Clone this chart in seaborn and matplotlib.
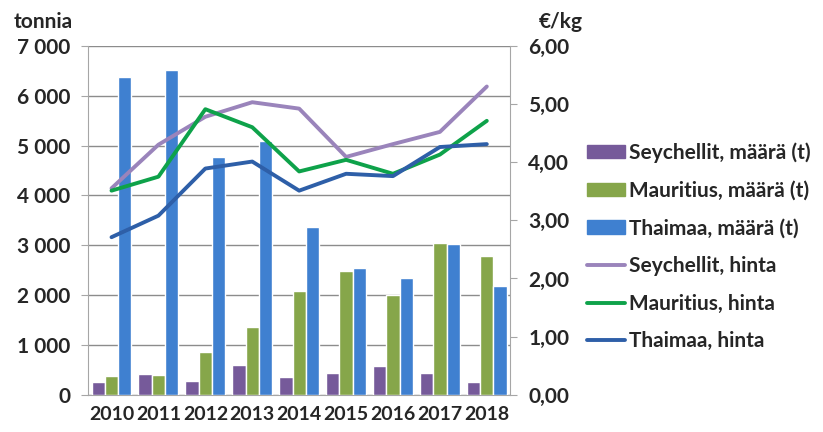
import numpy as np
import pandas as pd
import matplotlib
matplotlib.use("Agg")
import matplotlib.pyplot as plt
import seaborn as sns
from matplotlib.patches import Patch
from matplotlib.lines import Line2D

years = ["2010", "2011", "2012", "2013", "2014", "2015", "2016", "2017", "2018"]

# quantities (t)
sey_maara = [250, 420, 270, 590, 360, 440, 570, 440, 250]
mau_maara = [380, 400, 850, 1370, 2080, 2490, 2000, 3050, 2780]
tha_maara = [6380, 6520, 4770, 5100, 3360, 2550, 2350, 3030, 2180]

# prices (€/kg)
sey_hinta = [3.55, 4.30, 4.78, 5.03, 4.92, 4.09, 4.31, 4.52, 5.30]
mau_hinta = [3.51, 3.75, 4.91, 4.60, 3.84, 4.04, 3.80, 4.13, 4.71]
tha_hinta = [2.71, 3.08, 3.89, 4.01, 3.51, 3.80, 3.76, 4.26, 4.31]

bar_names = ["Seychellit, määrä (t)", "Mauritius, määrä (t)", "Thaimaa, määrä (t)"]
line_names = ["Seychellit, hinta", "Mauritius, hinta", "Thaimaa, hinta"]
bar_colors = ["#765a9a", "#86a64a", "#3f80d0"]
line_colors = ["#9a84bb", "#0ea24a", "#2e5fa8"]

bars = pd.DataFrame({
    "vuosi": years * 3,
    "sarja": np.repeat(bar_names, len(years)),
    "arvo": sey_maara + mau_maara + tha_maara,
})
lines = pd.DataFrame({
    "x": list(range(len(years))) * 3,
    "sarja": np.repeat(line_names, len(years)),
    "hinta": sey_hinta + mau_hinta + tha_hinta,
})

sns.set_style("white")
plt.rcParams["font.family"] = ["Lato", "DejaVu Sans"]
plt.rcParams["font.weight"] = "bold"
FS = 15

fig = plt.figure(figsize=(8.23, 4.32), dpi=100)
ax = fig.add_axes([0.107, 0.086, 0.513, 0.808])

sns.barplot(data=bars, x="vuosi", y="arvo", hue="sarja", palette=bar_colors,
            width=0.85, gap=0, saturation=1, ax=ax, legend=False, zorder=3)
ax.set_ylim(0, 7000)
ax.set_xlim(-0.5, len(years) - 0.5)
ax.set_yticks(range(0, 7001, 1000))
ax.set_yticklabels([f"{v:,}".replace(",", " ") for v in range(0, 7001, 1000)],
                   fontweight="bold", fontsize=FS)
ax.set_xticks(range(len(years)))
ax.set_xticklabels(years, fontweight="bold", fontsize=14)
ax.yaxis.grid(True, color="#8c8c8c", linewidth=1, zorder=0)
ax.set_axisbelow(True)
ax.set_xlabel("")
ax.set_ylabel("")
for s in ["top", "right"]:
    ax.spines[s].set_visible(False)
for s in ["left", "bottom"]:
    ax.spines[s].set_color("#a6a6a6")
ax.tick_params(axis="y", length=5, color="#a6a6a6", pad=8)
ax.tick_params(axis="x", length=0, pad=8)
ax.set_xticks(np.arange(-0.5, len(years), 1), minor=True)
ax.tick_params(axis="x", which="minor", length=6, color="#a6a6a6")

ax2 = ax.twinx()
sns.lineplot(data=lines, x="x", y="hinta", hue="sarja", palette=line_colors,
             linewidth=2.8, ax=ax2, legend=False)
ax2.set_ylim(0, 6)
ax2.set_xlim(-0.5, len(years) - 0.5)
ax2.set_yticks(range(0, 7))
ax2.set_yticklabels([f"{v},00" for v in range(0, 7)], fontweight="bold", fontsize=FS)
ax2.set_ylabel("")
for s in ["top", "left", "bottom"]:
    ax2.spines[s].set_visible(False)
ax2.spines["right"].set_color("#a6a6a6")
ax2.tick_params(axis="y", length=5, color="#a6a6a6", pad=8)

fig.text(0.016, 0.925, "tonnia", fontsize=FS, fontweight="bold", va="bottom")
fig.text(0.655, 0.925, "€/kg", fontsize=FS, fontweight="bold", va="bottom")

handles = [Patch(color=c, label=n) for c, n in zip(bar_colors, bar_names)]
handles += [Line2D([0], [0], color=c, linewidth=2.8, label=n)
            for c, n in zip(line_colors, line_names)]
fig.legend(handles=handles, loc="upper left", bbox_to_anchor=(0.703, 0.69),
           frameon=False, prop={"size": FS, "weight": "bold"}, labelspacing=0.85,
           handlelength=1.85, handleheight=0.6, handletextpad=0.15, borderaxespad=0)

fig.savefig("out.png", dpi=100)
